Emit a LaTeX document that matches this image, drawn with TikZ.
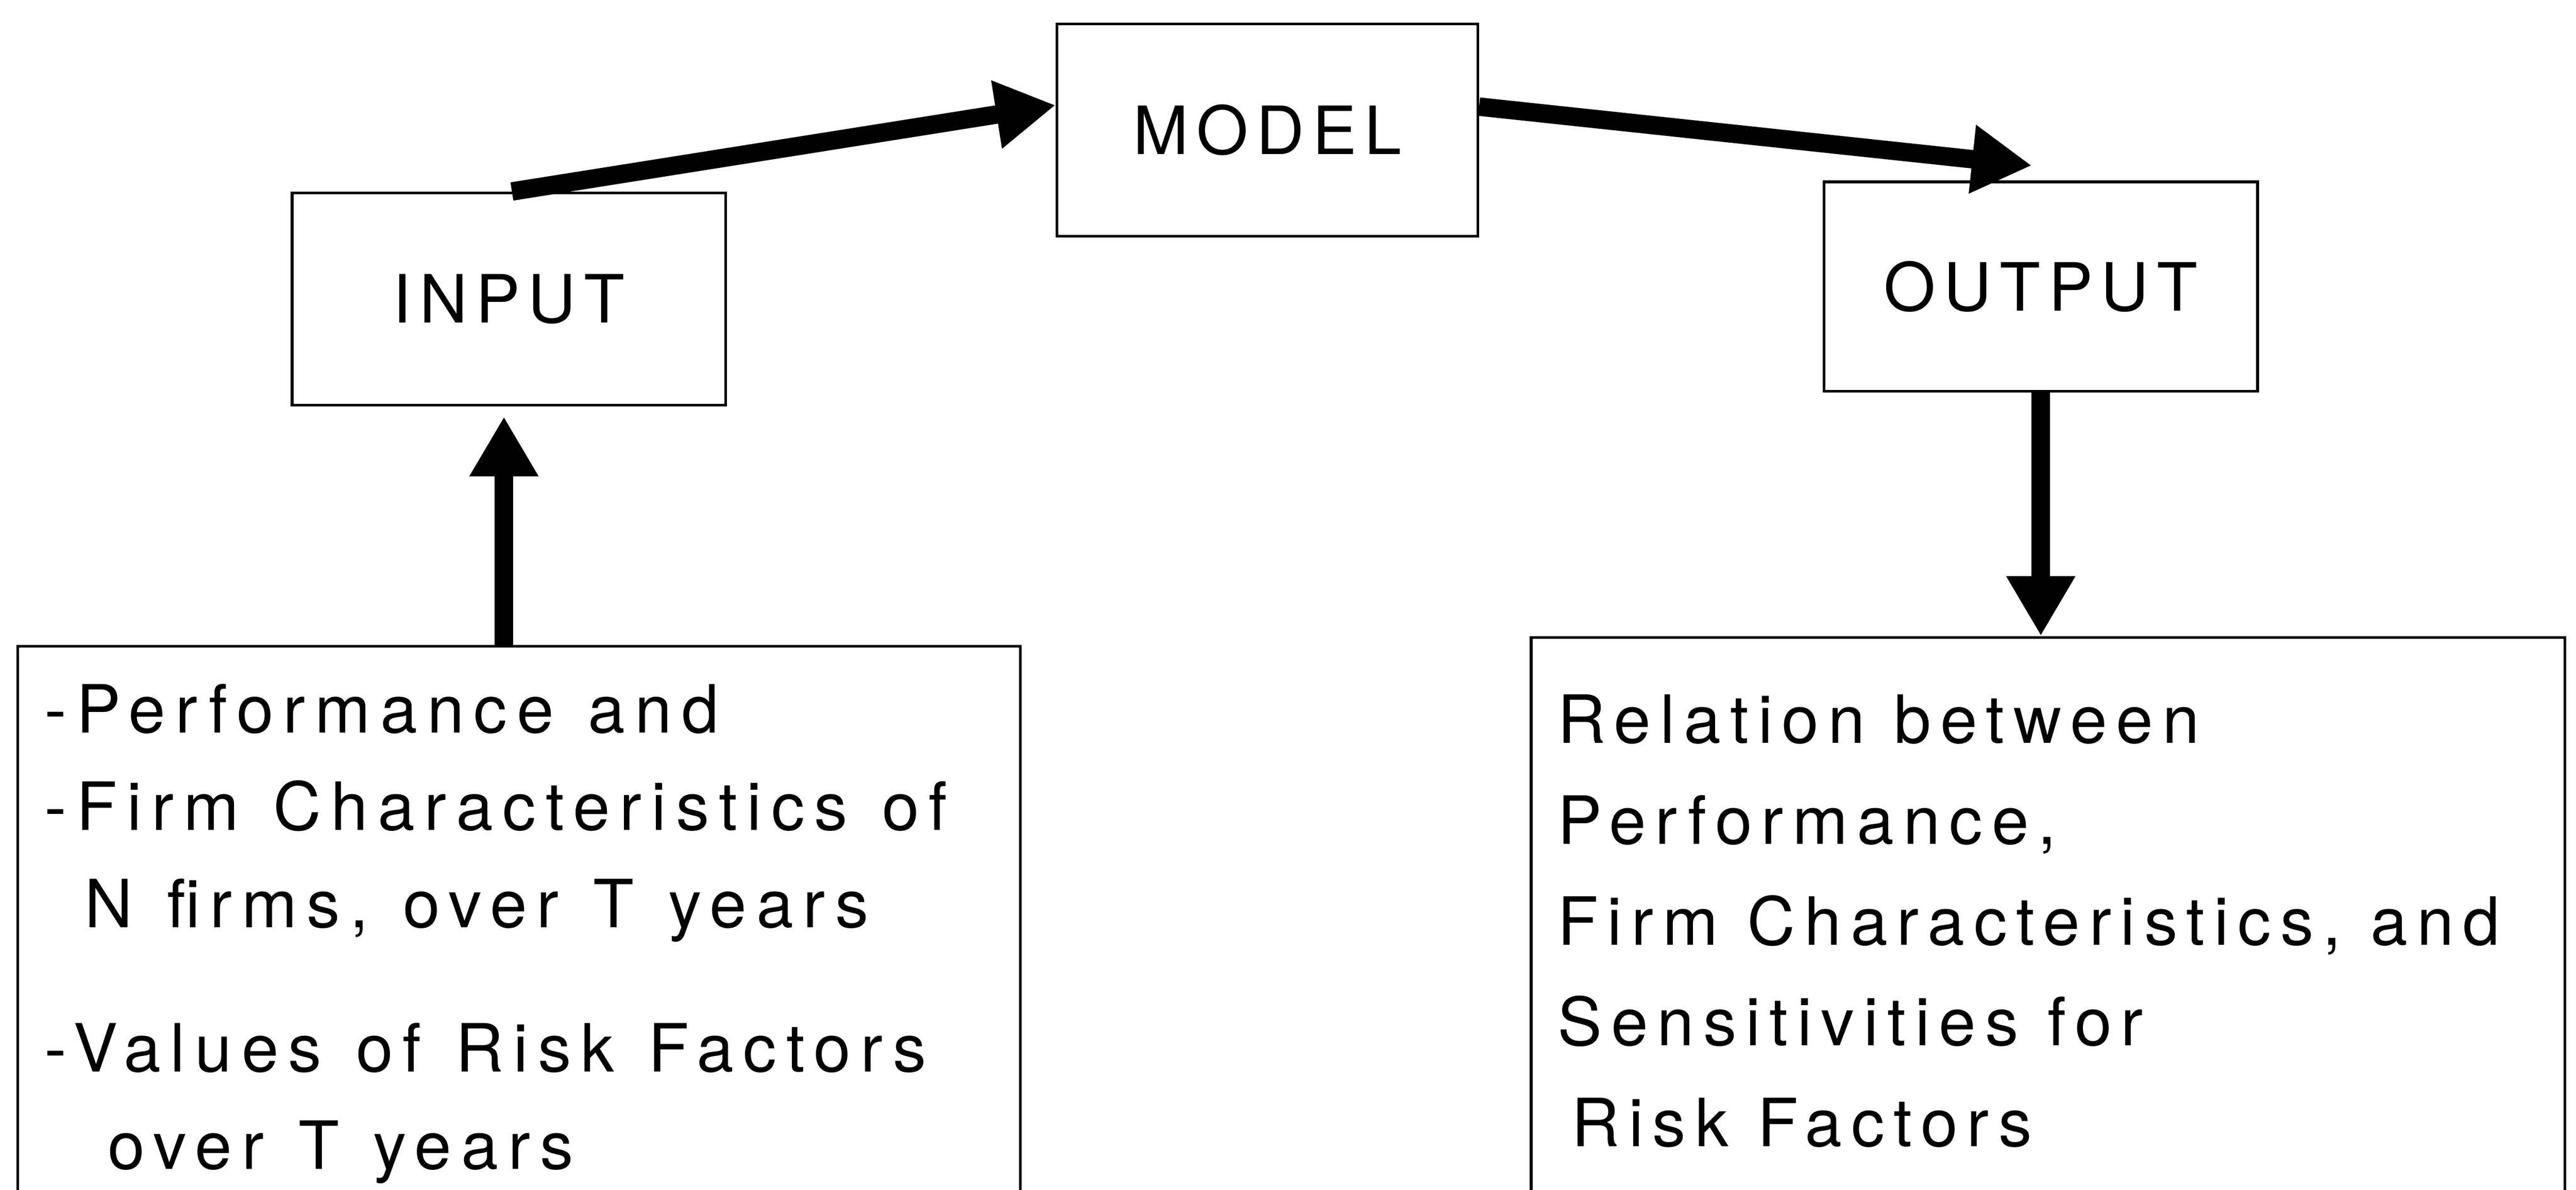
\documentclass[tikz,border=0pt]{standalone}
\usepackage{fontspec}
\newfontfamily\diagfont[LetterSpace=12]{TeX Gyre Heros}
\newfontfamily\datafont[LetterSpace=14.6]{TeX Gyre Heros}
\newfontfamily\resultfont[LetterSpace=13.7]{TeX Gyre Heros}
\newcommand\datatext{\datafont\fontsize{19}{27.8}\selectfont}
\newcommand\resulttext{\resultfont\fontsize{19}{28.8}\selectfont}
\usetikzlibrary{positioning,arrows.meta}

\tikzset{
  stage/.style={draw, line width=0.8pt, minimum width=4.35cm, minimum height=2.13cm,
    inner sep=0pt, font=\diagfont\fontsize{19}{28}\selectfont},
  listbox/.style={draw, line width=0.8pt, anchor=north west, align=left,
    inner ysep=0pt, text depth=5cm},
  flow/.style={line width=0.185cm, -{Triangle[length=0.6cm,width=0.65cm]}},
}

\begin{document}
\begin{tikzpicture}
  \useasboundingbox (0,0) rectangle (25.84,-11.935);

  \node[stage] (input) at (5.105,-3.0) {INPUT};
  \node[stage, minimum width=4.22cm, right=3.295cm of input, yshift=1.695cm] (model) {MODEL};
  \node[stage, minimum height=2.1cm, right=3.445cm of model, yshift=-1.57cm] (output) {OUTPUT};

  % data going in
  \node[listbox, text width=9.515cm, inner xsep=0.27cm, text height=0.865cm,
    font=\datatext] (data) at (0.165,-6.47) {%
    \spaceskip=9.8pt\relax
    -Performance and\\
    -Firm Characteristics of\\
    \hspace*{0.4cm}N firms, over T years\\[0.47cm]
    -Values of Risk Factors\\
    \hspace*{0.635cm}over T years};

  % what comes out
  \node[listbox, text width=9.84cm, inner xsep=0.265cm, text height=1.06cm,
    font=\resulttext] (result) at (15.345,-6.38) {%
    \spaceskip=8.4pt\relax
    Relation between\\
    Performance,\\
    Firm Characteristics, and\\
    Sensitivities for\\
    \hspace*{0.14cm}Risk Factors};

  \draw[flow] ([xshift=0.03cm]input.north) -- ([yshift=0.25cm]model.west);
  \draw[flow] ([yshift=0.235cm]model.east) -- ([shift={(-0.09,0.15)}]output.north);
  \draw[flow] ([xshift=-0.05cm]input.south |- data.north) -- ([xshift=-0.05cm,yshift=-0.1cm]input.south);
  \draw[flow] (output.south) -- (output.south |- result.north);
\end{tikzpicture}
\end{document}
